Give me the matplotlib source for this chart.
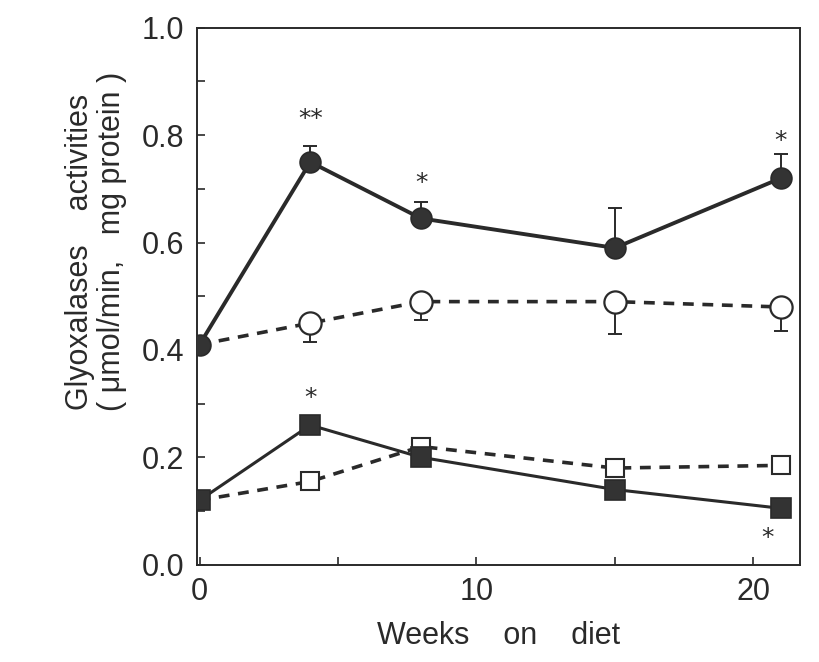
import matplotlib
matplotlib.use("Agg")
import matplotlib.pyplot as plt

plt.rcParams['font.family'] = ['Liberation Sans', 'DejaVu Sans']

weeks = [0, 4, 8, 15, 21]

# Glyoxalase I (circles)
gly1_hepatoma = [0.41, 0.75, 0.645, 0.59, 0.72]
gly1_hepatoma_err = [0.0, 0.03, 0.03, 0.075, 0.045]
gly1_normal = [0.41, 0.45, 0.49, 0.49, 0.48]
gly1_normal_err = [0.0, 0.035, 0.035, 0.06, 0.045]

# Glyoxalase II (squares)
gly2_hepatoma = [0.12, 0.26, 0.20, 0.14, 0.105]
gly2_normal = [0.12, 0.155, 0.22, 0.18, 0.185]

# significance marks: (x, y, text)
sig_x = [4, 8, 21, 4, 20.5]
sig_y = [0.83, 0.71, 0.79, 0.31, 0.05]
sig_txt = ['**', '*', '*', '*', '*']

xticks = [0, 5, 10, 15, 20]
xticklabels = ['0', '', '10', '', '20']
yticks = [0.0, 0.1, 0.2, 0.3, 0.4, 0.5, 0.6, 0.7, 0.8, 0.9, 1.0]
yticklabels = ['0.0', '', '0.2', '', '0.4', '', '0.6', '', '0.8', '', '1.0']

fig = plt.figure(figsize=(8.2, 6.62), dpi=100)
ax = fig.add_axes([0.24, 0.147, 0.736, 0.811])

lc = '#2a2a2a'
dash = (0, (3.0, 2.4))
# dashed normal lines
ax.plot(weeks, gly1_normal, linestyle=dash, color=lc, lw=2.6, zorder=2)
ax.plot(weeks, gly2_normal, linestyle=dash, color=lc, lw=2.6, zorder=2)
# solid hepatoma lines
ax.plot(weeks, gly1_hepatoma, linestyle='-', color=lc, lw=2.8, zorder=3)
ax.plot(weeks, gly2_hepatoma, linestyle='-', color=lc, lw=2.2, zorder=3)

# error bars: upward for hepatoma circles, downward for normal circles
ax.errorbar(weeks[1:], gly1_hepatoma[1:], yerr=[[0]*4, gly1_hepatoma_err[1:]],
            fmt='none', ecolor=lc, elinewidth=1.4, capsize=5, capthick=1.4, zorder=2)
ax.errorbar(weeks[1:], gly1_normal[1:], yerr=[gly1_normal_err[1:], [0]*4],
            fmt='none', ecolor=lc, elinewidth=1.4, capsize=5, capthick=1.4, zorder=2)

# markers
ax.plot(weeks[1:], gly1_normal[1:], 'o', ms=16, mfc='white', mec=lc, mew=1.6, ls='none', zorder=4)
ax.plot(weeks[1:], gly2_normal[1:], 's', ms=13, mfc='white', mec=lc, mew=1.5, ls='none', zorder=4)
ax.plot(weeks, gly1_hepatoma, 'o', ms=15, mfc='#333333', mec=lc, mew=1.2, ls='none', zorder=5)
ax.plot(weeks, gly2_hepatoma, 's', ms=14, mfc='#333333', mec=lc, mew=1.2, ls='none', zorder=5)

for x, y, t in zip(sig_x, sig_y, sig_txt):
    ax.text(x, y, t, ha='center', va='center', fontsize=18, color=lc, family='DejaVu Sans')

ax.set_xlim(-0.1, 21.7)
ax.set_ylim(0.0, 1.0)
ax.set_xticks(xticks)
ax.set_xticklabels(xticklabels)
ax.set_yticks(yticks)
ax.set_yticklabels(yticklabels)
ax.tick_params(direction='in', length=6, width=1.2, labelsize=22, colors=lc)
ax.tick_params(axis='y', pad=9)
ax.tick_params(axis='x', pad=9)
for s in ax.spines.values():
    s.set_linewidth(1.4)
    s.set_color(lc)

ax.set_xlabel('Weeks    on    diet', fontsize=22, color=lc, labelpad=10)
fig.text(0.098, 0.62, 'Glyoxalases    activities', rotation=90, ha='center', va='center',
         fontsize=22, color=lc)
fig.text(0.136, 0.635, '( \u03bcmol/min,   mg protein )', rotation=90, ha='center', va='center',
         fontsize=22, color=lc)

fig.savefig('out.png', dpi=100, facecolor='white')
